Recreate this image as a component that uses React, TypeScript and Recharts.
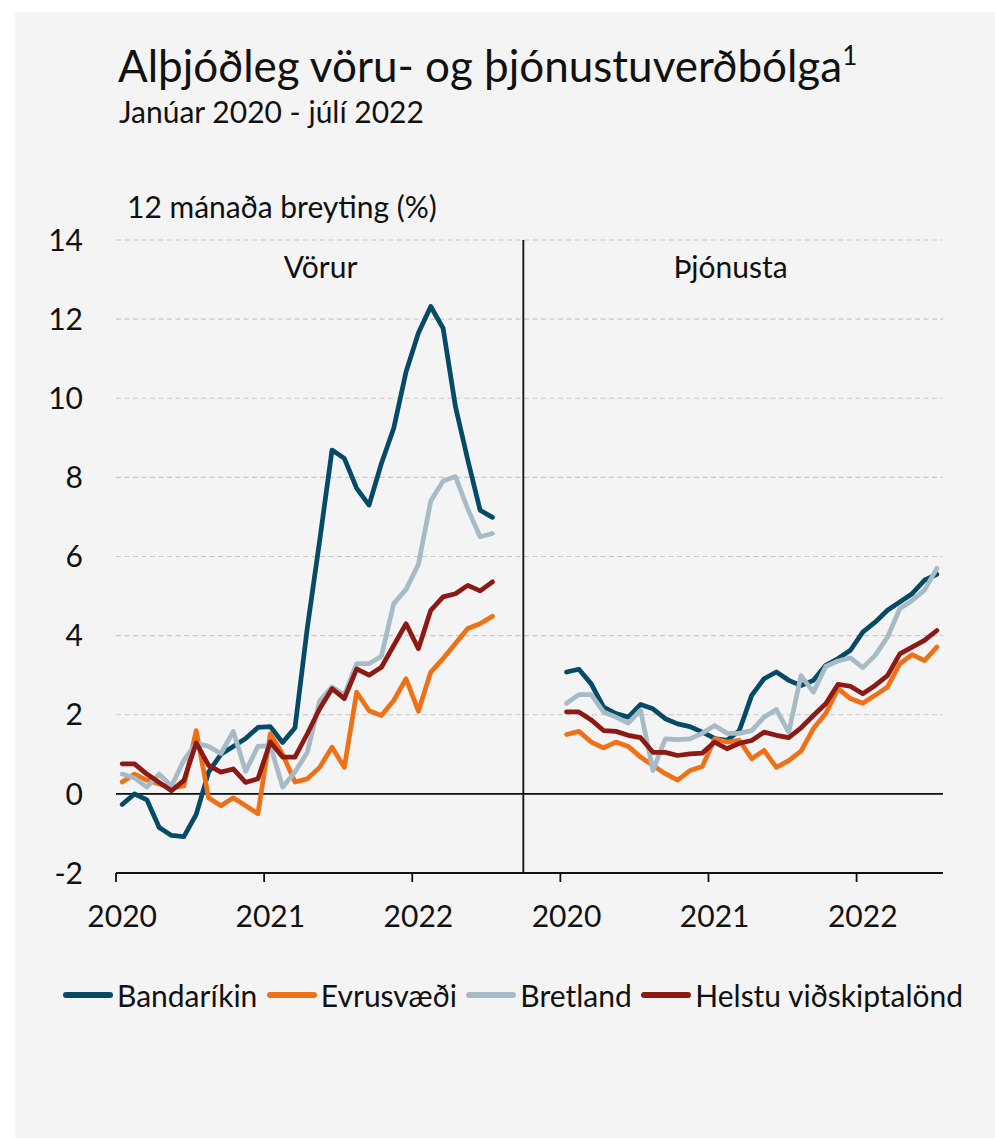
import React from 'react';
import { CartesianGrid, Line, LineChart, ReferenceLine, XAxis, YAxis } from 'recharts';

// 12 mánaða breyting (%), janúar 2020 - júlí 2022 (31 mánuðir)
const yearLabels = ['2020', '2021', '2022'];
const yTicks = [-2, 0, 2, 4, 6, 8, 10, 12, 14];

// Vörur
const usGoods = [
  -0.27, 0.0, -0.15, -0.85, -1.05, -1.08, -0.52, 0.55, 1.0, 1.2, 1.4, 1.68, 1.7, 1.3, 1.67, 4.2,
  6.4, 8.69, 8.48, 7.72, 7.3, 8.35, 9.24, 10.67, 11.65, 12.32, 11.77, 9.79, 8.44, 7.17, 6.99,
];
const euGoods = [
  0.3, 0.5, 0.35, 0.25, 0.15, 0.2, 1.6, -0.1, -0.3, -0.1, -0.3, -0.5, 1.52, 1.0, 0.3, 0.38, 0.67,
  1.18, 0.67, 2.57, 2.1, 1.98, 2.36, 2.91, 2.09, 3.08, 3.42, 3.8, 4.18, 4.3, 4.49,
];
const ukGoods = [
  0.5, 0.4, 0.17, 0.5, 0.2, 0.85, 1.28, 1.2, 1.02, 1.58, 0.57, 1.2, 1.22, 0.17, 0.55, 1.05, 2.35,
  2.7, 2.5, 3.29, 3.29, 3.48, 4.81, 5.17, 5.8, 7.4, 7.91, 8.02, 7.2, 6.5, 6.58,
];
const mainGoods = [
  0.76, 0.76, 0.5, 0.29, 0.08, 0.34, 1.29, 0.72, 0.55, 0.63, 0.29, 0.38, 1.31, 0.93, 0.93, 1.52,
  2.15, 2.66, 2.41, 3.16, 3.0, 3.2, 3.75, 4.3, 3.67, 4.64, 4.98, 5.06, 5.27, 5.13, 5.36,
];

// Þjónusta
const usServices = [
  3.08, 3.15, 2.78, 2.19, 2.03, 1.94, 2.26, 2.15, 1.9, 1.77, 1.7, 1.56, 1.4, 1.35, 1.6, 2.49, 2.91,
  3.08, 2.87, 2.74, 2.87, 3.25, 3.42, 3.63, 4.09, 4.34, 4.64, 4.85, 5.06, 5.4, 5.55,
];
const euServices = [
  1.5, 1.58, 1.31, 1.16, 1.31, 1.2, 0.93, 0.72, 0.51, 0.35, 0.59, 0.69, 1.39, 1.31, 1.35, 0.89,
  1.1, 0.67, 0.84, 1.08, 1.65, 2.03, 2.66, 2.41, 2.29, 2.49, 2.7, 3.29, 3.52, 3.37, 3.71,
];
const ukServices = [
  2.29, 2.51, 2.51, 2.07, 1.94, 1.79, 2.11, 0.59, 1.39, 1.37, 1.39, 1.53, 1.73, 1.53, 1.53, 1.6,
  1.94, 2.13, 1.56, 2.99, 2.57, 3.22, 3.36, 3.44, 3.19, 3.5, 3.96, 4.68, 4.89, 5.15, 5.7,
];
const mainServices = [
  2.07, 2.07, 1.87, 1.6, 1.58, 1.48, 1.42, 1.05, 1.05, 0.97, 1.01, 1.03, 1.31, 1.14, 1.28, 1.35,
  1.56, 1.48, 1.42, 1.67, 1.98, 2.28, 2.77, 2.72, 2.53, 2.74, 2.99, 3.54, 3.71, 3.88, 4.13,
];

const series = [
  { key: 'us', name: 'Bandaríkin', color: '#064b66', goods: usGoods, services: usServices },
  { key: 'eu', name: 'Evrusvæði', color: '#ee7117', goods: euGoods, services: euServices },
  { key: 'uk', name: 'Bretland', color: '#a7bbc7', goods: ukGoods, services: ukServices },
  { key: 'main', name: 'Helstu viðskiptalönd', color: '#8c1914', goods: mainGoods, services: mainServices },
];

// þjónustuhlutinn byrjar 36 mánuðum á eftir vöruhlutanum á sama ási
const SERVICES_OFFSET = 36;
const X_DOMAIN: [number, number] = [-0.5, SERVICES_OFFSET + 30.5];
const DIVIDER_X = 32.5;

const rows: Record<string, number>[] = [];
usGoods.forEach((_, i) => {
  const row: Record<string, number> = { x: i };
  series.forEach((s) => (row[s.key + 'G'] = s.goods[i]));
  rows.push(row);
});
usServices.forEach((_, j) => {
  const row: Record<string, number> = { x: SERVICES_OFFSET + j };
  series.forEach((s) => (row[s.key + 'S'] = s.services[j]));
  rows.push(row);
});

const yearTicks = [0, SERVICES_OFFSET].flatMap((start) => yearLabels.map((_, k) => start + k * 12 - 0.5));

const W = 995;
const H = 1138;
const PLOT_LEFT = 116;
const PLOT_RIGHT = 943;
const PLOT_TOP = 240;
const PLOT_BOTTOM = 873;
const HALF_SLOT = (PLOT_RIGHT - PLOT_LEFT) / (X_DOMAIN[1] - X_DOMAIN[0]) / 2;

const FONT = 'Lato, "Open Sans", sans-serif';

const YearTick = (props: any) => {
  const { x, y, payload } = props;
  const v = payload.value as number;
  const k = Math.round(((v + 0.5) % SERVICES_OFFSET) / 12);
  return (
    <text x={x + HALF_SLOT} y={y} dy="0.71em" textAnchor="middle" fill="#111" fontSize={30} fontFamily={FONT}>
      {yearLabels[k]}
    </text>
  );
};

export default function App() {
  return (
    <div style={{ position: 'absolute', left: 0, top: 0, width: W, height: H, background: '#fff' }}>
      <div style={{ position: 'absolute', left: 15, top: 12, width: W - 15, height: H - 12, background: '#f4f4f4' }} />
      <div style={{ position: 'absolute', left: 0, top: 0 }}>
        <LineChart
          width={W}
          height={H}
          data={rows}
          margin={{ top: PLOT_TOP, right: W - PLOT_RIGHT, bottom: H - PLOT_BOTTOM - 30, left: 0 }}
        >
          <CartesianGrid vertical={false} stroke="#c6c6c6" strokeDasharray="5 3.5" strokeWidth={1.2} />
          <XAxis
            type="number"
            dataKey="x"
            domain={X_DOMAIN}
            ticks={yearTicks}
            interval={0}
            height={30}
            axisLine={{ stroke: '#111', strokeWidth: 1.8 }}
            tickLine={{ stroke: '#111', strokeWidth: 1.8 }}
            tickSize={9}
            tickMargin={24}
            tick={<YearTick />}
          />
          <YAxis
            type="number"
            domain={[-2, 14]}
            ticks={yTicks}
            interval={0}
            width={PLOT_LEFT}
            axisLine={false}
            tickLine={false}
            tickSize={0}
            tickMargin={33}
            tick={{ fill: '#111', fontSize: 30, fontFamily: FONT }}
          />
          <ReferenceLine y={0} stroke="#111" strokeWidth={1.8} />
          <ReferenceLine x={DIVIDER_X} stroke="#111" strokeWidth={1.8} />
          {series.map((s) => (
            <Line
              key={s.key + 'G'}
              dataKey={s.key + 'G'}
              name={s.name}
              type="linear"
              stroke={s.color}
              strokeWidth={4.75}
              strokeLinejoin="round"
              strokeLinecap="round"
              dot={false}
              activeDot={false}
              isAnimationActive={false}
            />
          ))}
          {series.map((s) => (
            <Line
              key={s.key + 'S'}
              dataKey={s.key + 'S'}
              name={s.name}
              type="linear"
              stroke={s.color}
              strokeWidth={4.75}
              strokeLinejoin="round"
              strokeLinecap="round"
              dot={false}
              activeDot={false}
              legendType="none"
              isAnimationActive={false}
            />
          ))}
        </LineChart>
      </div>
      <svg
        width={W}
        height={H}
        style={{ position: 'absolute', left: 0, top: 0, pointerEvents: 'none' }}
        fontFamily={FONT}
        fill="#111"
      >
        <text x={118} y={82} fontSize={44}>
          Alþjóðleg vöru- og þjónustuverðbólga
          <tspan fontSize={26} dy={-17}>1</tspan>
        </text>
        <text x={119} y={123} fontSize={30}>
          Janúar 2020 - júlí 2022
        </text>
        <text x={127} y={218} fontSize={30}>
          12 mánaða breyting (%)
        </text>
        <text x={320.5} y={278} fontSize={30} textAnchor="middle">
          Vörur
        </text>
        <text x={730.5} y={278} fontSize={30} textAnchor="middle">
          Þjónusta
        </text>
      </svg>
      <div
        style={{
          position: 'absolute',
          left: 63,
          top: 975,
          height: 40,
          display: 'flex',
          alignItems: 'center',
          fontFamily: FONT,
          fontSize: 30,
          color: '#111',
          whiteSpace: 'nowrap',
        }}
      >
        {series.map((s) => (
          <div key={s.key} style={{ display: 'flex', alignItems: 'center', marginRight: 9.5 }}>
            <span style={{ display: 'inline-block', width: 50, height: 6, borderRadius: 3, background: s.color, marginRight: 4 }} />
            <span>{s.name}</span>
          </div>
        ))}
      </div>
    </div>
  );
}
